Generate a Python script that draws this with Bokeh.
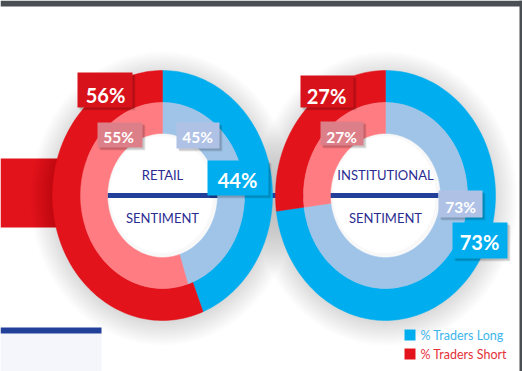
import numpy as np
from bokeh.plotting import figure
from bokeh.models import Range1d, ColumnDataSource
from bokeh.core.properties import value
from bokeh.embed import file_html
from bokeh.resources import INLINE

# ---------------- data ----------------
categories = ["RETAIL", "INSTITUTIONAL"]
outer_long = [44, 73]    # % traders long (outer ring)
outer_short = [56, 27]   # % traders short (outer ring)
inner_long = [45, 73]    # % traders long (inner ring)
inner_short = [55, 27]   # % traders short (inner ring)
center_top = ["RETAIL", "INSTITUTIONAL"]
center_bottom = ["SENTIMENT", "SENTIMENT"]
legend_labels = ["% Traders Long", "% Traders Short"]

# ---------------- style / layout ----------------
FONT = "Lato"
C_LONG = "#00aeef"
C_SHORT = "#e2131b"
C_LONG_LIGHT = "#a0c4e8"
C_SHORT_LIGHT = "#ff7c82"
C_BOX_SHORT = "#d8121b"
C_BOX_SHORT_LIGHT = "#dd7f88"
C_BOX_LONG_LIGHT = "#afc2e6"
C_NAVY = "#22409a"
C_TEXT_NAVY = "#2b2c92"
C_FRAME = "#4a4f54"

W, H = 522, 371
centers_x = [162, 385]
center_y = 195
R_HOLE = (55, 62)
R_MID = (82, 93)
R_OUT = (110, 125)

# label box layout per donut: (left, right, top, bottom, text_x, text_y)
box_outer_short = [(77, 132, 72, 107, 105, 94), (300, 353, 75, 107, 326, 95)]
box_inner_short = [(97, 142, 122, 147, 118, 136), (320, 363, 121, 145, 341, 136)]
box_inner_long = [(176, 219, 122, 148, 197, 136), (438, 482, 190, 217, 460, 206)]
box_outer_long = [(207, 268, 160, 195, 237, 179), (452, 507, 222, 258, 479, 241)]

p = figure(width=W, height=H, output_backend="svg", toolbar_location=None,
           x_range=Range1d(0, W), y_range=Range1d(H, 0),
           min_border=0, outline_line_color=None, background_fill_color="white")
p.axis.visible = False
p.grid.visible = False


def ring_patch(cx, cy, r_in, r_out, f0, f1):
    n = max(3, int(240 * (f1 - f0)))
    t = np.linspace(f0, f1, n) * 2 * np.pi
    xo = cx + r_out[0] * np.sin(t)
    yo = cy - r_out[1] * np.cos(t)
    xi = cx + r_in[0] * np.sin(t[::-1])
    yi = cy - r_in[1] * np.cos(t[::-1])
    return list(np.concatenate([xo, xi])), list(np.concatenate([yo, yi]))


# dark frame (top bar and right edge)
p.quad(left=[0, 519], right=[W, W], top=[0, 0], bottom=[6, H],
       fill_color=C_FRAME, line_color=None)

# bottom-left decoration
p.quad(left=[0], right=[101], top=[333], bottom=[H], fill_color="#f4f6fb", line_color=None)
p.quad(left=[0], right=[101], top=[327], bottom=[333], fill_color=C_NAVY, line_color=None)

# red band behind the left donut
p.quad(left=[0], right=[130], top=[158], bottom=[227], fill_color=C_SHORT, line_color=None)

# soft drop shadows
for k in range(12):
    p.ellipse(x=centers_x, y=[center_y + 3] * 2,
              width=[2 * R_OUT[0] + 4 * k] * 2, height=[2 * R_OUT[1] + 4 * k] * 2,
              fill_color="#000000", fill_alpha=0.012, line_color=None)

# white holes
p.ellipse(x=centers_x, y=[center_y] * 2, width=[2 * R_HOLE[0] + 4] * 2,
          height=[2 * R_HOLE[1] + 4] * 2, fill_color="white", line_color=None)
# faint inner shadow of holes
for k in range(4):
    p.ellipse(x=[c - 1 for c in centers_x], y=[center_y - 1] * 2,
              width=[2 * R_HOLE[0] - 2 * k] * 2, height=[2 * R_HOLE[1] - 2 * k] * 2,
              fill_color=None, line_color="#000000", line_alpha=0.015, line_width=2)

# navy line through both centres
p.segment(x0=[centers_x[0] - R_HOLE[0]], y0=[center_y], x1=[centers_x[1] + R_HOLE[0] - 2],
          y1=[center_y], line_color=C_NAVY, line_width=5)

# rings
xs, ys, cols = [], [], []
for i, cx in enumerate(centers_x):
    for (lv, sv, rin, rout, cl, cs) in [
        (outer_long[i], outer_short[i], R_MID, R_OUT, C_LONG, C_SHORT),
        (inner_long[i], inner_short[i], R_HOLE, R_MID, C_LONG_LIGHT, C_SHORT_LIGHT),
    ]:
        tot = lv + sv
        x, y = ring_patch(cx, center_y, rin, rout, 0, lv / tot)
        xs.append(x); ys.append(y); cols.append(cl)
        x, y = ring_patch(cx, center_y, rin, rout, lv / tot, 1)
        xs.append(x); ys.append(y); cols.append(cs)
p.patches(xs="xs", ys="ys", fill_color="col", line_color="col", line_width=0.5,
          source=ColumnDataSource(dict(xs=xs, ys=ys, col=cols)))

# label boxes
def boxes(layout, vals, color, size):
    L = [b[0] for b in layout]; R = [b[1] for b in layout]
    T = [b[2] for b in layout]; B = [b[3] for b in layout]
    for off, a in [(3, 0.08), (2, 0.15)]:
        p.quad(left=[l + off for l in L], right=[r + off for r in R],
               top=[t + off for t in T], bottom=[b + off for b in B],
               fill_color="#000000", fill_alpha=a, line_color=None)
    p.quad(left=L, right=R, top=T, bottom=B, fill_color=color, line_color=None)
    p.text(x=[b[4] for b in layout], y=[b[5] for b in layout],
           text=[f"{v}%" for v in vals], text_color="white",
           text_font=value(FONT), text_font_style="bold", text_font_size=size,
           text_align="center", text_baseline="middle")

boxes(box_outer_short, outer_short, C_BOX_SHORT, "20px")
boxes(box_inner_short, inner_short, C_BOX_SHORT_LIGHT, "15.5px")
boxes(box_inner_long, inner_long, C_BOX_LONG_LIGHT, "15.5px")
boxes(box_outer_long, outer_long, C_LONG, "20px")

# centre texts
p.text(x=centers_x, y=[center_y - 21] * 2, text=center_top, text_color=C_TEXT_NAVY,
       text_font=value(FONT), text_font_size="13px", text_align="center",
       text_baseline="middle")
p.text(x=centers_x, y=[center_y + 22] * 2, text=center_bottom, text_color=C_TEXT_NAVY,
       text_font=value(FONT), text_font_size="13px", text_align="center",
       text_baseline="middle")

# legend
leg_y = [334.5, 353.5]
p.quad(left=[404, 404], right=[415, 415], top=[y - 5.5 for y in leg_y],
       bottom=[y + 5.5 for y in leg_y], fill_color=[C_LONG, C_SHORT], line_color=None)
p.text(x=[420, 420], y=leg_y, text=legend_labels, text_color=["#3cb6ec", "#e4313a"],
       text_font=value(FONT), text_font_size="12.5px", text_align="left",
       text_baseline="middle")

open("out.html", "w").write(file_html(p, INLINE))
